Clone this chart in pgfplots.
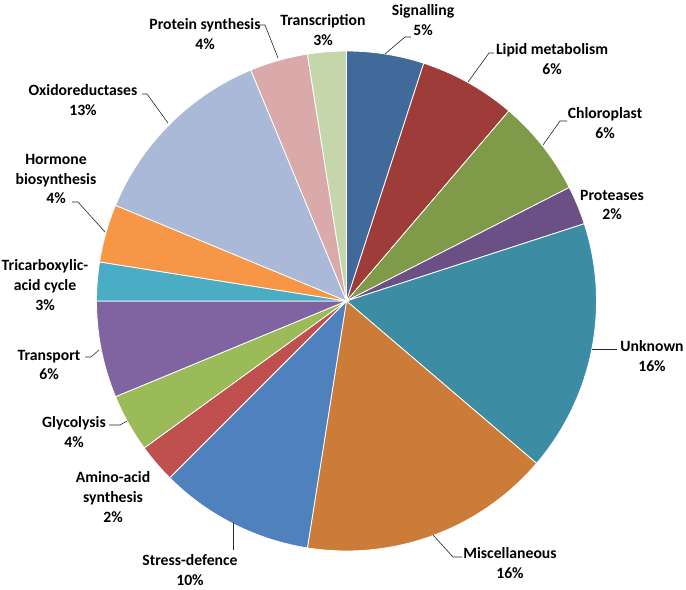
\documentclass[border=0pt]{standalone}
\usepackage{fontspec}
\setmainfont{Carlito}
\usepackage{pgfplots}
\pgfplotsset{compat=1.18}

\definecolor{c01}{HTML}{406A9A}
\definecolor{c02}{HTML}{9E3C3A}
\definecolor{c03}{HTML}{7F9A48}
\definecolor{c04}{HTML}{6A5085}
\definecolor{c05}{HTML}{3C8DA4}
\definecolor{c06}{HTML}{CC7C39}
\definecolor{c07}{HTML}{4F81BD}
\definecolor{c08}{HTML}{C0504D}
\definecolor{c09}{HTML}{9BBB59}
\definecolor{c10}{HTML}{8064A2}
\definecolor{c11}{HTML}{4BACC6}
\definecolor{c12}{HTML}{F79646}
\definecolor{c13}{HTML}{A9B9D7}
\definecolor{c14}{HTML}{D9AAA9}
\definecolor{c15}{HTML}{C6D6AB}

% pie centre and radius in picture units (1 unit = 1px), total count 80
\def\cx{346.5}
\def\cy{301}
\def\rad{250}
\def\total{80}
\gdef\cum{0}
\newcommand\slice[2]{%
  \pgfmathsetmacro\sa{\cum*(360/\total)}%
  \pgfmathsetmacro\se{(\cum+#1)*(360/\total)}%
  \pgfmathsetmacro\newcum{\cum+#1}%
  \xdef\cum{\newcum}%
  \edef\doslice{\noexpand\addplot[fill=#2, draw=white, line width=0.8pt,
      domain=\sa:\se, samples=60]
      ({\cx+\rad*sin(x)},{\cy-\rad*cos(x)}) -- (axis cs:\cx,\cy) -- cycle;}%
  \doslice}

\begin{document}
\begin{tikzpicture}[
    lab/.style={font=\fontsize{15.7bp}{19.7bp}\selectfont\bfseries, align=center, text=black, inner sep=0pt},
    lead/.style={black!85, line width=0.6pt},
]
\begin{axis}[
    hide axis,
    scale only axis,
    width=686bp, height=590bp,
    xmin=0, xmax=686, ymin=0, ymax=590,
    y dir=reverse,
    clip=false,
]
\path (rel axis cs:0,0) rectangle (rel axis cs:1,1);
% counts, clockwise from 12 o'clock
\slice{4}{c01}  % Signalling
\slice{5}{c02}  % Lipid metabolism
\slice{5}{c03}  % Chloroplast
\slice{2}{c04}  % Proteases
\slice{13}{c05} % Unknown
\slice{13}{c06} % Miscellaneous
\slice{8}{c07}  % Stress-defence
\slice{2}{c08}  % Amino-acid synthesis
\slice{3}{c09}  % Glycolysis
\slice{5}{c10}  % Transport
\slice{2}{c11}  % Tricarboxylic-acid cycle
\slice{3}{c12}  % Hormone biosynthesis
\slice{10}{c13} % Oxidoreductases
\slice{3}{c14}  % Protein synthesis
\slice{2}{c15}  % Transcription

\node[lab] at (axis cs:423,20) {Signalling\\5\%};
\node[lab] at (axis cs:552,59) {Lipid metabolism\\6\%};
\node[lab] at (axis cs:605,123) {Chloroplast\\6\%};
\node[lab] at (axis cs:612,205) {Proteases\\2\%};
\node[lab] at (axis cs:652,356) {Unknown\\16\%};
\node[lab] at (axis cs:510,563) {Miscellaneous\\16\%};
\node[lab] at (axis cs:190,570) {Stress-defence\\10\%};
\node[lab] at (axis cs:113,497) {Amino-acid\\synthesis\\2\%};
\node[lab] at (axis cs:74,432) {Glycolysis\\4\%};
\node[lab] at (axis cs:49,365) {Transport\\6\%};
\node[lab] at (axis cs:45,285) {Tricarboxylic-\\acid cycle\\3\%};
\node[lab] at (axis cs:56,179) {Hormone\\biosynthesis\\4\%};
\node[lab] at (axis cs:83,100) {Oxidoreductases\\13\%};
\node[lab] at (axis cs:205,34) {Protein synthesis\\4\%};
\node[lab] at (axis cs:323,30) {Transcription\\3\%};

\draw[lead] (axis cs:385,54) -- (axis cs:405,37) -- (axis cs:411,37);
\draw[lead] (axis cs:468,82) -- (axis cs:489,53) -- (axis cs:494,53);
\draw[lead] (axis cs:543,145) -- (axis cs:560,121) -- (axis cs:567,121);
\draw[lead] (axis cs:592,349) -- (axis cs:617,349);
\draw[lead] (axis cs:433,535) -- (axis cs:453,557) -- (axis cs:462,557);
\draw[lead] (axis cs:233,523) -- (axis cs:233,550);
\draw[lead] (axis cs:109,425) -- (axis cs:120,425) -- (axis cs:127,421);
\draw[lead] (axis cs:85,357) -- (axis cs:91,357) -- (axis cs:99,350);
\draw[lead] (axis cs:72,202) -- (axis cs:78,202) -- (axis cs:105,232);
\draw[lead] (axis cs:142,94) -- (axis cs:147,94) -- (axis cs:168,123);
\draw[lead] (axis cs:258,25) -- (axis cs:265,25) -- (axis cs:278,58);
\end{axis}
\end{tikzpicture}
\end{document}
